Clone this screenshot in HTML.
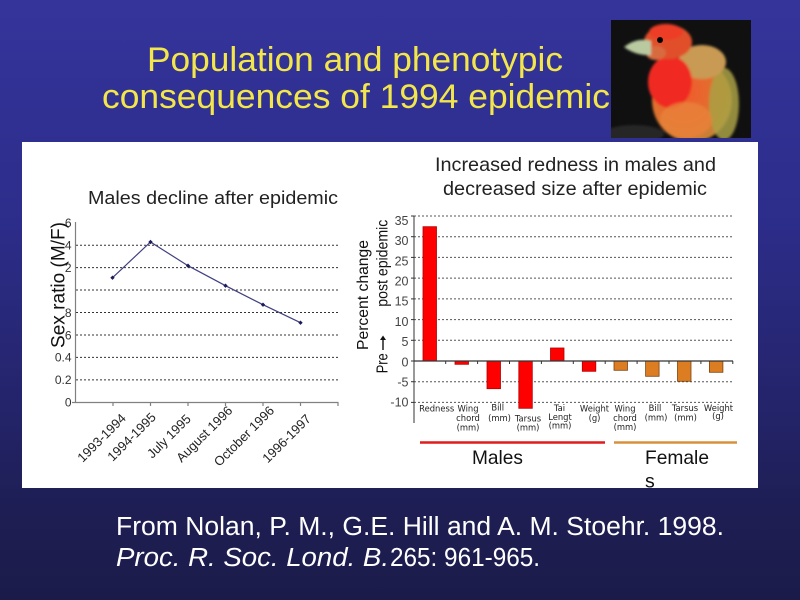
<!DOCTYPE html>
<html><head><meta charset="utf-8"><style>
html,body{margin:0;padding:0;width:800px;height:600px;overflow:hidden;background:#222266}
svg{display:block}
</style></head><body>
<svg width="800" height="600" viewBox="0 0 800 600" xmlns="http://www.w3.org/2000/svg" font-family="'Liberation Sans', Arial, sans-serif">
<defs>
<linearGradient id="bg" x1="0" y1="0" x2="0" y2="1">
<stop offset="0" stop-color="#34349b"/>
<stop offset="0.35" stop-color="#2d2d8c"/>
<stop offset="0.7" stop-color="#232368"/>
<stop offset="0.85" stop-color="#1e1e54"/>
<stop offset="1" stop-color="#1b1b4a"/>
</linearGradient>
<radialGradient id="bodyg" cx="0.4" cy="0.4" r="0.7">
<stop offset="0" stop-color="#f25a2c"/>
<stop offset="0.6" stop-color="#e0702e"/>
<stop offset="1" stop-color="#b88a3a"/>
</radialGradient>
<filter id="soft" x="-10%" y="-10%" width="120%" height="120%"><feGaussianBlur stdDeviation="1.4"/></filter>
<clipPath id="birdclip"><rect x="611" y="20" width="140" height="118"/></clipPath>
</defs>
<rect width="800" height="600" fill="url(#bg)"/>

<!-- Title -->
<text x="147" y="71" font-size="34" fill="#f2e64a" textLength="416" lengthAdjust="spacingAndGlyphs">Population and phenotypic</text>
<text x="102" y="108" font-size="34" fill="#f2e64a" textLength="508" lengthAdjust="spacingAndGlyphs">consequences of 1994 epidemic</text>

<!-- Bird -->
<rect x="611" y="20" width="140" height="118" fill="#101010"/>
<g clip-path="url(#birdclip)">
<g filter="url(#soft)">
<ellipse cx="634" cy="134" rx="30" ry="9" fill="#262626"/>
<ellipse cx="692" cy="100" rx="40" ry="42" fill="url(#bodyg)"/>
<ellipse cx="724" cy="104" rx="15" ry="36" fill="#a9a044" opacity="0.85"/>
<ellipse cx="702" cy="62" rx="24" ry="17" fill="#c99a52"/>
<ellipse cx="670" cy="82" rx="22" ry="26" fill="#f02a20"/>
<ellipse cx="686" cy="120" rx="26" ry="18" fill="#e8823a" opacity="0.8"/>
<ellipse cx="668" cy="42" rx="24" ry="17" fill="#e0502a"/>
<ellipse cx="666" cy="32" rx="17" ry="8" fill="#ee3c28"/>
<ellipse cx="656" cy="53" rx="10" ry="7" fill="#d86a40"/>
<path d="M624,47 Q636,37 651,41 L651,55 Q636,56 624,47 Z" fill="#b9caa0"/>
</g>
<circle cx="660" cy="40" r="3" fill="#000"/>
</g>

<!-- Panel -->
<rect x="22" y="142" width="736" height="346" fill="#ffffff"/>

<!-- Left chart -->
<text x="88" y="204" font-size="18" fill="#222" textLength="250" lengthAdjust="spacingAndGlyphs">Males decline after epidemic</text>
<g stroke="#333" stroke-width="1" stroke-dasharray="2,2">
<line x1="76" y1="379.9" x2="338" y2="379.9"/>
<line x1="76" y1="357.4" x2="338" y2="357.4"/>
<line x1="76" y1="335" x2="338" y2="335"/>
<line x1="76" y1="312.5" x2="338" y2="312.5"/>
<line x1="76" y1="290" x2="338" y2="290"/>
<line x1="76" y1="267.6" x2="338" y2="267.6"/>
<line x1="76" y1="245.2" x2="338" y2="245.2"/>
</g>
<g stroke="#808080" stroke-width="1.2">
<line x1="75.5" y1="222" x2="75.5" y2="403"/>
<line x1="75" y1="402.5" x2="338.5" y2="402.5"/>
<line x1="113" y1="402.5" x2="113" y2="406"/>
<line x1="150.5" y1="402.5" x2="150.5" y2="406"/>
<line x1="188" y1="402.5" x2="188" y2="406"/>
<line x1="225.5" y1="402.5" x2="225.5" y2="406"/>
<line x1="263" y1="402.5" x2="263" y2="406"/>
<line x1="300.5" y1="402.5" x2="300.5" y2="406"/>
<line x1="338" y1="402.5" x2="338" y2="406"/>
<line x1="72" y1="402.5" x2="75.5" y2="402.5"/>
</g>
<g font-size="12" fill="#333" text-anchor="end">
<text x="71.5" y="406.6">0</text>
<text x="71.5" y="384.2">0.2</text>
<text x="71.5" y="361.7">0.4</text>
<text x="71.5" y="339.3">6</text>
<text x="71.5" y="316.8">8</text>
<text x="71.5" y="271.9">2</text>
<text x="71.5" y="249.5">4</text>
<text x="71.5" y="227">6</text>
</g>
<text transform="translate(64.5,285) rotate(-90)" text-anchor="middle" font-size="19.5" fill="#111" textLength="126" lengthAdjust="spacingAndGlyphs">Sex ratio (M/F)</text>
<polyline points="112.5,277.7 150.5,242 188,265.7 225.5,285.7 263,304.7 300.5,322.7" fill="none" stroke="#404080" stroke-width="1.2"/>
<g fill="#1c1c5a">
<path d="M112.5,275.5 L114.7,277.7 L112.5,279.9 L110.3,277.7Z"/>
<path d="M150.5,239.8 L152.7,242 L150.5,244.2 L148.3,242Z"/>
<path d="M188,263.5 L190.2,265.7 L188,267.9 L185.8,265.7Z"/>
<path d="M225.5,283.5 L227.7,285.7 L225.5,287.9 L223.3,285.7Z"/>
<path d="M263,302.5 L265.2,304.7 L263,306.9 L260.8,304.7Z"/>
<path d="M300.5,320.5 L302.7,322.7 L300.5,324.9 L298.3,322.7Z"/>
</g>
<g font-size="13" fill="#222" text-anchor="end">
<text transform="translate(126.7,419) rotate(-45)">1993-1994</text>
<text transform="translate(156.7,418) rotate(-45)">1994-1995</text>
<text transform="translate(191.7,419.7) rotate(-45)">July 1995</text>
<text transform="translate(233.3,411.4) rotate(-45)">August 1996</text>
<text transform="translate(275,411.4) rotate(-45)">October 1996</text>
<text transform="translate(311.7,419.7) rotate(-45)">1996-1997</text>
</g>

<!-- Right chart -->
<text x="435" y="171" font-size="19.5" fill="#222" textLength="281" lengthAdjust="spacingAndGlyphs">Increased redness in males and</text>
<text x="443" y="195" font-size="19.5" fill="#222" textLength="264" lengthAdjust="spacingAndGlyphs">decreased size after epidemic</text>
<g stroke="#555" stroke-width="1" stroke-dasharray="2,2">
<line x1="414" y1="216" x2="733" y2="216"/>
<line x1="414" y1="236.7" x2="733" y2="236.7"/>
<line x1="414" y1="257.4" x2="733" y2="257.4"/>
<line x1="414" y1="278.1" x2="733" y2="278.1"/>
<line x1="414" y1="298.9" x2="733" y2="298.9"/>
<line x1="414" y1="319.6" x2="733" y2="319.6"/>
<line x1="414" y1="340.3" x2="733" y2="340.3"/>
<line x1="414" y1="381.7" x2="733" y2="381.7"/>
<line x1="414" y1="402.4" x2="733" y2="402.4"/>
</g>
<g stroke="#333" stroke-width="1">
<line x1="414" y1="216" x2="414" y2="423"/>
<line x1="411" y1="216" x2="414" y2="216"/>
<line x1="411" y1="236.7" x2="414" y2="236.7"/>
<line x1="411" y1="257.4" x2="414" y2="257.4"/>
<line x1="411" y1="278.1" x2="414" y2="278.1"/>
<line x1="411" y1="298.9" x2="414" y2="298.9"/>
<line x1="411" y1="319.6" x2="414" y2="319.6"/>
<line x1="411" y1="340.3" x2="414" y2="340.3"/>
<line x1="411" y1="361" x2="414" y2="361"/>
<line x1="411" y1="381.7" x2="414" y2="381.7"/>
<line x1="411" y1="402.4" x2="414" y2="402.4"/>
</g>
<g font-size="12.5" fill="#444" text-anchor="end">
<text x="408.5" y="225">35</text>
<text x="408.5" y="245.1">30</text>
<text x="408.5" y="265.3">25</text>
<text x="408.5" y="285.5">20</text>
<text x="408.5" y="305.7">15</text>
<text x="408.5" y="325.9">10</text>
<text x="408.5" y="346.1">5</text>
<text x="408.5" y="366.3">0</text>
<text x="408.5" y="386.5">-5</text>
<text x="408.5" y="406.7">-10</text>
</g>
<!-- bars -->
<g fill="#ff0000" stroke="#b00000" stroke-width="0.8">
<rect x="423" y="226.7" width="13.5" height="134.3"/>
<rect x="455" y="361" width="13.5" height="3.3"/>
<rect x="487" y="361" width="13.5" height="27.7"/>
<rect x="518.8" y="361" width="13.5" height="47.3"/>
<rect x="550.5" y="348" width="13.5" height="13"/>
<rect x="582.3" y="361" width="13.5" height="10.3"/>
</g>
<g fill="#dc7d22" stroke="#7a4410" stroke-width="0.8">
<rect x="614" y="361" width="13.5" height="9.3"/>
<rect x="645.6" y="361" width="13.5" height="15.3"/>
<rect x="677.5" y="361" width="13.5" height="20.3"/>
<rect x="709.4" y="361" width="13.5" height="11.3"/>
</g>
<line x1="414" y1="361" x2="733" y2="361" stroke="#333" stroke-width="1.2"/>
<g stroke="#333" stroke-width="1">
<line x1="445.7" y1="361" x2="445.7" y2="364"/>
<line x1="477.6" y1="361" x2="477.6" y2="364"/>
<line x1="509.5" y1="361" x2="509.5" y2="364"/>
<line x1="541.4" y1="361" x2="541.4" y2="364"/>
<line x1="573.3" y1="361" x2="573.3" y2="364"/>
<line x1="605.2" y1="361" x2="605.2" y2="364"/>
<line x1="637.1" y1="361" x2="637.1" y2="364"/>
<line x1="669" y1="361" x2="669" y2="364"/>
<line x1="700.9" y1="361" x2="700.9" y2="364"/>
<line x1="732.8" y1="361" x2="732.8" y2="364"/>
</g>
<g font-family="'DejaVu Sans', Verdana, sans-serif" font-size="8.4" fill="#222" text-anchor="middle">
<text x="436.7" y="411.7">Redness</text>
<text x="468" y="411.7">Wing</text><text x="468" y="421">chord</text><text x="468" y="430.3">(mm)</text>
<text x="497.7" y="410.5">Bill</text><text x="499.5" y="421">(mm)</text>
<text x="528" y="421.7">Tarsus</text><text x="528" y="430.7">(mm)</text>
<text x="559.5" y="411">Tai</text><text x="560" y="420">Lengt</text><text x="560" y="428.3">(mm)</text>
<text x="594.5" y="411.7">Weight</text><text x="594.5" y="421">(g)</text>
<text x="625" y="411.7">Wing</text><text x="625" y="421">chord</text><text x="625" y="430">(mm)</text>
<text x="655" y="411">Bill</text><text x="656" y="420.3">(mm)</text>
<text x="685" y="411">Tarsus</text><text x="685.5" y="420.3">(mm)</text>
<text x="718.5" y="411">Weight</text><text x="718" y="419">(g)</text>
</g>
<!-- right y label -->
<text transform="translate(368,295) rotate(-90)" text-anchor="middle" font-size="16" fill="#111" textLength="110" lengthAdjust="spacingAndGlyphs">Percent change</text>
<text transform="translate(387.5,373.3) rotate(-90)" font-size="16" fill="#111" textLength="20" lengthAdjust="spacingAndGlyphs">Pre</text>
<g transform="translate(383,0)" stroke="#111" stroke-width="1.4" fill="#111">
<line x1="0" y1="350" x2="0" y2="339"/>
<path d="M-3,340 L0,335.5 L3,340Z" stroke="none"/>
</g>
<text transform="translate(387.5,306.7) rotate(-90)" font-size="16" fill="#111" textLength="87" lengthAdjust="spacingAndGlyphs">post epidemic</text>
<!-- group lines -->
<line x1="420" y1="442.5" x2="605" y2="442.5" stroke="#e01c1c" stroke-width="2.5"/>
<line x1="614" y1="442.5" x2="737" y2="442.5" stroke="#d8903c" stroke-width="2.5"/>
<text x="472" y="464" font-size="19.5" fill="#111" textLength="51" lengthAdjust="spacingAndGlyphs">Males</text>
<text x="645" y="464" font-size="19.5" fill="#111" textLength="64" lengthAdjust="spacingAndGlyphs">Female</text>
<text x="645" y="487.5" font-size="19.5" fill="#111">s</text>

<!-- Bottom citation -->
<text x="116" y="535" font-size="25.5" fill="#ffffff" textLength="608" lengthAdjust="spacingAndGlyphs">From Nolan, P. M., G.E. Hill and A. M. Stoehr. 1998.</text>
<text x="116" y="566" font-size="25.5" font-style="italic" fill="#ffffff" textLength="273" lengthAdjust="spacingAndGlyphs">Proc. R. Soc. Lond. B.</text>
<text x="390" y="566" font-size="25.5" fill="#ffffff" textLength="150" lengthAdjust="spacingAndGlyphs">265: 961-965.</text>
</svg>
</body></html>
